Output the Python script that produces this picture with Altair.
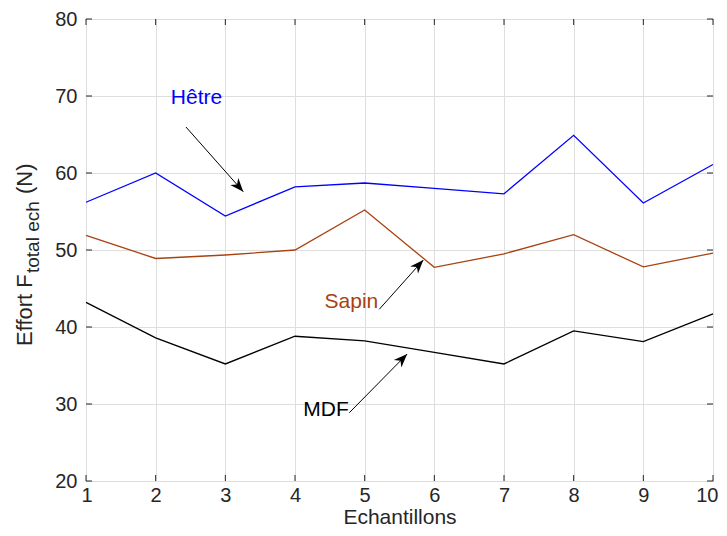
import altair as alt
import pandas as pd

# ---------------- data ----------------
samples = list(range(1, 11))
hetre = [56.2, 60.0, 54.4, 58.2, 58.7, 58.0, 57.3, 64.9, 56.1, 61.1]
sapin = [51.9, 48.9, 49.35, 50.0, 55.2, 47.75, 49.5, 52.0, 47.8, 49.6]
mdf = [43.2, 38.6, 35.2, 38.8, 38.2, 36.7, 35.2, 39.5, 38.1, 41.7]

series_names = ["Hêtre", "Sapin", "MDF"]
series_colors = ["#0000FF", "#A8420F", "#000000"]

x_ticks = list(range(1, 11))
y_ticks = [20, 30, 40, 50, 60, 70, 80]

# annotation labels (data coordinates) and arrows
label_x = [2.586, 4.81, 4.445]
label_y = [69.7, 43.3, 29.2]
arrow_x0 = [2.435, 5.21, 4.78]
arrow_y0 = [65.97, 42.3, 28.87]
arrow_x1 = [3.258, 5.842, 5.61]
arrow_y1 = [57.57, 48.70, 36.49]
arrow_angle = [138.5, 42.75, 44.65]

# ---------------- tables ----------------
rows = []
for name, vals in zip(series_names, [hetre, sapin, mdf]):
    for s, v in zip(samples, vals):
        rows.append({"x": s, "v": v, "s": name})
df = pd.DataFrame(rows)

ann = pd.DataFrame({
    "s": series_names, "lx": label_x, "ly": label_y,
    "x0": arrow_x0, "y0": arrow_y0, "x1": arrow_x1, "y1": arrow_y1,
    "ang": arrow_angle,
})
xt = pd.DataFrame({"x": x_ticks})
yt = pd.DataFrame({"y": y_ticks})
one = pd.DataFrame({"a": [0]})

W, H = 627, 462
FONT = "Liberation Sans"
AX = "#262626"

xscale = alt.Scale(domain=[1, 10], nice=False, zero=False)
yscale = alt.Scale(domain=[20, 80], nice=False, zero=False)
cscale = alt.Scale(domain=series_names, range=series_colors)

xaxis = alt.Axis(values=x_ticks, grid=True, gridColor="#DEDEDE", gridWidth=1,
                 ticks=False, tickSize=0, domain=False, labelFlush=True,
                 labelFlushOffset=5,
                 labelOverlap=False, labelFontSize=20, labelPadding=4,
                 labelColor=AX, format="d", title="Echantillons",
                 titleFontSize=21, titleFontWeight="normal", titleColor=AX,
                 titleY=42, titleBaseline="alphabetic")
yaxis = alt.Axis(values=y_ticks, grid=True, gridColor="#DEDEDE", gridWidth=1,
                 ticks=False, tickSize=0, domain=False, labelFlush=False,
                 labelOverlap=False, labelFontSize=20, labelPadding=9,
                 labelColor=AX, format="d", title=None)

lines = alt.Chart(df).mark_line(strokeWidth=1.3).encode(
    x=alt.X("x:Q", scale=xscale, axis=xaxis),
    y=alt.Y("v:Q", scale=yscale, axis=yaxis),
    color=alt.Color("s:N", scale=cscale, legend=None),
)

# inward ticks on all four sides
tick_len = 6
bt = alt.Chart(xt).mark_rule(color=AX, strokeWidth=1).encode(
    x=alt.X("x:Q", scale=xscale), y=alt.value(H), y2=alt.value(H - tick_len))
tt = alt.Chart(xt).mark_rule(color=AX, strokeWidth=1).encode(
    x=alt.X("x:Q", scale=xscale), y=alt.value(0), y2=alt.value(tick_len))
lt = alt.Chart(yt).mark_rule(color=AX, strokeWidth=1).encode(
    y=alt.Y("y:Q", scale=yscale), x=alt.value(0), x2=alt.value(tick_len))
rt = alt.Chart(yt).mark_rule(color=AX, strokeWidth=1).encode(
    y=alt.Y("y:Q", scale=yscale), x=alt.value(W), x2=alt.value(W - tick_len))

labels = alt.Chart(ann).mark_text(fontSize=21, font=FONT, align="center",
                                  baseline="middle").encode(
    x=alt.X("lx:Q", scale=xscale), y=alt.Y("ly:Q", scale=yscale),
    text="s:N", color=alt.Color("s:N", scale=cscale, legend=None))

shafts = alt.Chart(ann).mark_rule(color="#000000", strokeWidth=1).encode(
    x=alt.X("x0:Q", scale=xscale), y=alt.Y("y0:Q", scale=yscale),
    x2="x1:Q", y2="y1:Q")

head_path = "M0,0 L0.45,1.15 L0,0.8 L-0.45,1.15 Z"
heads = alt.Chart(ann).mark_point(shape=head_path, filled=True, size=560,
                                  color="#000000", opacity=1).encode(
    x=alt.X("x1:Q", scale=xscale), y=alt.Y("y1:Q", scale=yscale),
    angle=alt.Angle("ang:Q", scale=None))

# y-axis title with subscript
t1 = alt.Chart(one).mark_text(text="Effort F", fontSize=22, font=FONT, angle=270,
                              align="left", baseline="alphabetic", color=AX).encode(
    x=alt.value(-54), y=alt.value(327))
t2 = alt.Chart(one).mark_text(text="total ech", fontSize=19, font=FONT, angle=270,
                              align="left", baseline="alphabetic", color=AX).encode(
    x=alt.value(-47), y=alt.value(254))
t3 = alt.Chart(one).mark_text(text="(N)", fontSize=22, font=FONT, angle=270,
                              align="left", baseline="alphabetic", color=AX).encode(
    x=alt.value(-54), y=alt.value(175))

chart = alt.layer(lines, bt, tt, lt, rt, shafts, heads, labels, t1, t2, t3).properties(
    width=W, height=H,
    autosize=alt.AutoSizeParams(type="none"),
    padding={"left": 78, "top": 11, "right": 6, "bottom": 47},
).configure_view(stroke=AX, strokeWidth=1).configure_axis(
    labelFont=FONT, titleFont=FONT).configure_text(font=FONT)

chart.save("out.html", embed_options={"renderer": "svg", "actions": False})
